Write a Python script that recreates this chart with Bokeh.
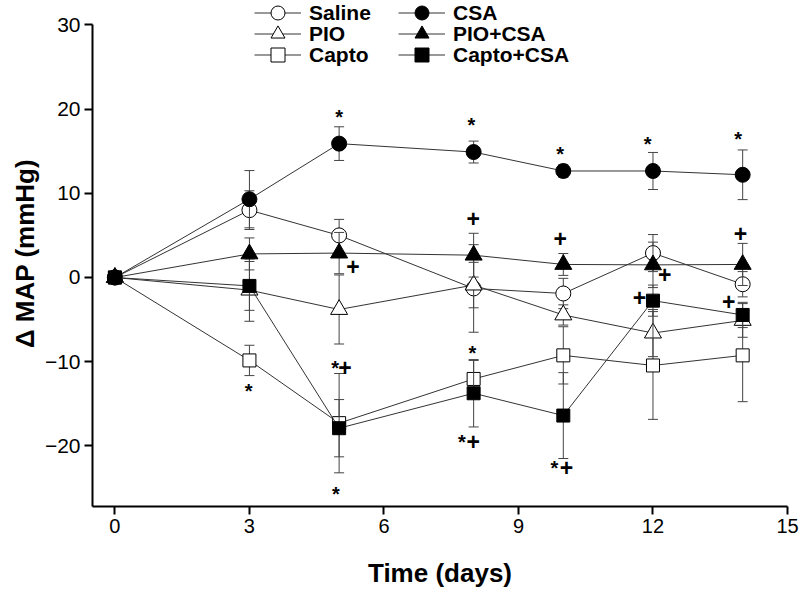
from bokeh.plotting import figure
from bokeh.models import Range1d, FixedTicker, Legend, LegendItem
from bokeh.core.properties import value
from bokeh.embed import file_html
from bokeh.resources import INLINE

# ---- data ----
days = [0, 3, 5, 8, 10, 12, 14]

saline = [0, 8.0, 5.0, -1.3, -1.9, 2.9, -0.8]
saline_err = [0, 2.3, 1.9, 5.2, 1.8, 2.2, 1.5]
csa = [0, 9.3, 15.9, 14.9, 12.65, 12.65, 12.2]
csa_err = [0, 3.4, 2.0, 1.3, 0.75, 2.2, 2.95]
pio = [0, -1.5, -3.8, -0.9, -4.45, -6.6, -5.1]
pio_err = [0, 3.7, 4.1, 2.7, 1.2, 2.8, 2.0]
pio_csa = [0, 2.8, 2.9, 2.65, 1.55, 1.5, 1.55]
pio_csa_err = [0, 1.9, 2.45, 2.6, 1.3, 2.7, 2.5]
capto = [0, -9.85, -17.3, -12.05, -9.25, -10.45, -9.25]
capto_err = [0, 1.8, 5.9, 2.2, 3.4, 6.4, 5.5]
capto_csa = [0, -1.0, -17.9, -13.75, -16.4, -2.75, -4.45]
capto_csa_err = [0, 2.9, 3.4, 4.0, 5.1, 1.85, 1.5]

# significance marks
star_x = [2.98, 5.0, 4.91, 4.93, 7.95, 7.97, 7.74, 9.93, 9.8, 11.88, 13.9]
star_y = [-12.9, 19.7, -10.2, -25.1, 18.7, -8.4, -18.9, 15.3, -22.0, 16.5, 17.1]
plus_x = [5.13, 7.99, 5.31, 7.99, 9.93, 10.07, 12.26, 11.7, 13.95, 13.69]
plus_y = [-10.7, -19.5, 1.28, 7.0, 4.64, -22.6, 0.41, -2.4, 5.24, -2.87]

x_ticks = [0, 3, 6, 9, 12, 15]
y_ticks = [-20, -10, 0, 10, 20, 30]
y_axis_span = (-27.2, 30)

FONT = "Liberation Sans"

# ---- figure ----
p = figure(width=800, height=592, output_backend="svg", toolbar_location=None,
           x_range=Range1d(-0.5, 15), y_range=Range1d(-27.2, 32.9),
           min_border_left=92, min_border_right=13, min_border_top=0,
           min_border_bottom=86)
p.outline_line_color = None
p.grid.visible = False
p.background_fill_color = "white"

for ax in (p.xaxis[0], p.yaxis[0]):
    ax.axis_line_width = 2
    ax.axis_line_color = "black"
    ax.major_tick_line_width = 2
    ax.major_tick_line_color = "black"
    ax.major_tick_out = 8
    ax.major_tick_in = 0
    ax.minor_tick_line_color = None
    ax.major_label_text_font = FONT
    ax.major_label_text_color = "black"
    ax.axis_label_text_font = FONT
    ax.axis_label_text_font_style = "bold"
    ax.axis_label_text_color = "black"
    ax.axis_label_text_font_size = "26px"

p.yaxis.bounds = y_axis_span
p.xaxis.ticker = FixedTicker(ticks=x_ticks)
p.yaxis.ticker = FixedTicker(ticks=y_ticks)
p.xaxis.major_label_text_font_size = "20px"
p.yaxis.major_label_text_font_size = "21px"
p.xaxis.major_label_standoff = 4
p.yaxis.major_label_standoff = 4
p.xaxis.axis_label = "Time (days)"
p.yaxis.axis_label = "\u0394 MAP (mmHg)"
p.xaxis.axis_label_standoff = 22
p.yaxis.axis_label_standoff = 2

series = [
    ("Saline", saline, saline_err, "circle", "white", 15),
    ("CSA", csa, csa_err, "circle", "black", 15),
    ("PIO", pio, pio_err, "triangle", "white", 17),
    ("PIO+CSA", pio_csa, pio_csa_err, "triangle", "black", 17),
    ("Capto", capto, capto_err, "square", "white", 13),
    ("Capto+CSA", capto_csa, capto_csa_err, "square", "black", 13),
]

items = {}
for name, ys, errs, marker, fill, size in series:
    ln = p.line(days, ys, line_color="#333333", line_width=1)
    ex = [d for d, e in zip(days, errs) if e > 0]
    lo = [v - e for v, e in zip(ys, errs) if e > 0]
    hi = [v + e for v, e in zip(ys, errs) if e > 0]
    p.segment(x0=ex, y0=lo, x1=ex, y1=hi, line_color="#444444", line_width=1)
    p.scatter(ex + ex, lo + hi, marker="dash", size=10, line_color="#444444", line_width=1)
    sc = p.scatter(days, ys, marker=marker, size=size, fill_color=fill,
                   line_color="black", line_width=1)
    items[name] = [ln, sc]

p.text(star_x, star_y, text=["*"] * len(star_x), text_font=value(FONT),
       text_font_style="bold", text_font_size="20px", text_align="center",
       text_baseline="middle", y_offset=5, text_color="black")
p.text(plus_x, plus_y, text=["+"] * len(plus_x), text_font=value(FONT),
       text_font_style="bold", text_font_size="23px", text_align="center",
       text_baseline="middle", text_color="black")

# one legend entry per Legend so that rows can sit closer than the glyph box
legend_cols = [["Saline", "PIO", "Capto"], ["CSA", "PIO+CSA", "Capto+CSA"]]
col_x = [162, 306]
row_y = [476, 455, 434]
for names, lx in zip(legend_cols, col_x):
    for n, ly in zip(names, row_y):
        lg = Legend(items=[LegendItem(label=n, renderers=items[n])],
                    location=(lx, ly), orientation="vertical",
                    glyph_width=47, glyph_height=35, label_height=35,
                    spacing=0, padding=0, margin=0, label_standoff=8,
                    border_line_color=None, background_fill_alpha=0,
                    label_text_font=FONT, label_text_font_style="bold",
                    label_text_font_size="21px", label_text_color="black")
        p.add_layout(lg)

open("out.html", "w").write(file_html(p, INLINE))
